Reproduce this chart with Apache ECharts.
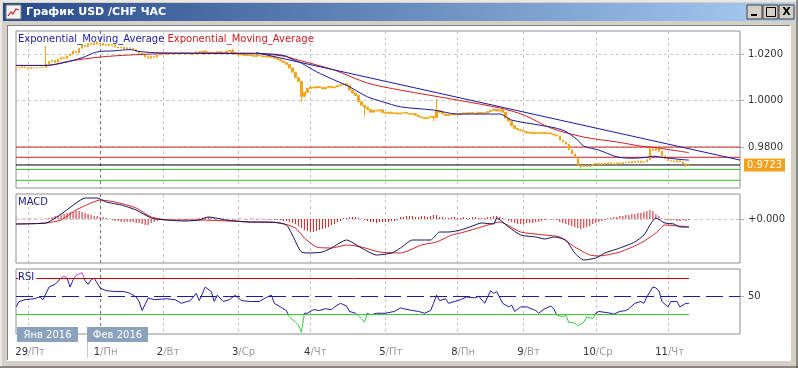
<!DOCTYPE html>
<html><head><meta charset="utf-8">
<script src="https://cdn.jsdelivr.net/npm/echarts@6/dist/echarts.min.js"></script>
<style>html,body{margin:0;padding:0;background:#d4d0c8;}#c{width:798px;height:368px;}</style>
</head><body><div id="c"></div>
<script>
// ---------- data ----------
const windowTitle = 'График USD /CHF ЧАС';
const emaLegend = 'Exponential_Moving_Average';
const slotCount = 242;                       // hourly slots on the time axis
const dayStartIdx = [4, 28, 49, 74, 98, 123, 147, 169, 193, 217];
const dayNum  = ['29', '1', '2', '3', '4', '5', '8', '9', '10', '11'];
const dayName = ['Пт', 'Пн', 'Вт', 'Ср', 'Чт', 'Пт', 'Пн', 'Вт', 'Ср', 'Чт'];
const monthLabels = ['Янв 2016', 'Фев 2016'];
const priceTicks = [0.98, 1.00, 1.02];
const macdTicks = [0];
const rsiTicks = [50];

const closes = [
  1.0143,1.0140,1.0145,1.0141,1.0138,1.0142,1.0140,1.0143,1.0141,1.0142,
  1.0158,
  1.0168,1.0172,1.0165,
  1.0178,1.0185,1.0180,1.0192,
  1.0200,1.0212,1.0206,
  1.0225,1.0238,1.0232,1.0245,1.0240,1.0248,1.0242,
  1.0246,1.0238,1.0242,1.0236,1.0240,
  1.0230,1.0226,1.0229,1.0222,1.0227,1.0224,1.0220,
  1.0212,1.0203,1.0198,
  1.0188,1.0182,1.0190,1.0186,
  1.0196,1.0200,1.0204,1.0198,1.0202,1.0205,1.0200,1.0203,1.0207,1.0201,1.0204,1.0199,
  1.0203,1.0210,1.0206,1.0212,1.0204,1.0208,1.0202,1.0206,1.0210,1.0203,1.0207,1.0212,1.0215,1.0205,
  1.0200,1.0196,1.0199,1.0193,1.0197,1.0194,1.0190,1.0195,1.0192,1.0188,1.0191,1.0186,1.0189,
  1.0182,1.0176,1.0170,1.0163,1.0155,
  1.0140,1.0122,
  1.0098,1.0082,
  1.0018,1.0035,
  1.0052,1.0058,1.0054,1.0060,1.0056,1.0050,1.0057,1.0061,1.0055,1.0059,
  1.0064,1.0068,1.0072,1.0066,
  1.0045,1.0032,1.0022,
  0.9995,0.9980,0.9972,0.9962,
  0.9950,0.9958,0.9955,0.9960,
  0.9948,0.9945,0.9950,0.9944,0.9947,0.9942,0.9946,0.9949,0.9945,0.9941,0.9944,
  0.9936,0.9930,0.9926,0.9922,0.9928,
  0.9932,0.9926,0.9958,
  0.9950,0.9942,0.9935,0.9940,0.9938,0.9943,0.9939,
  0.9944,0.9947,0.9943,0.9948,0.9946,0.9944,0.9949,0.9945,0.9947,
  0.9952,0.9958,0.9962,0.9955,0.9960,0.9950,
  0.9925,0.9912,
  0.9892,0.9880,0.9874,0.9870,
  0.9866,0.9860,0.9864,0.9858,0.9862,0.9859,0.9863,0.9857,0.9861,
  0.9856,0.9852,0.9848,
  0.9830,0.9822,0.9812,
  0.9788,0.9770,0.9755,
  0.9722,0.9716,0.9720,0.9715,0.9719,
  0.9726,0.9730,0.9724,0.9731,0.9727,0.9733,0.9729,0.9726,0.9732,0.9728,0.9734,
  0.9736,0.9732,0.9738,0.9735,0.9740,0.9734,0.9737,0.9745,
  0.9792,0.9785,0.9795,0.9782,
  0.9762,0.9750,0.9742,
  0.9740,0.9736,0.9741,0.9737,
  0.9728,0.9722,0.9723
];
const highSpikes = [[10,1.0234],[27,1.0256],[63,1.0218],[72,1.0222],[140,1.0005],[211,0.9802]];
const lowSpikes  = [[95,0.9995],[116,0.9933],[139,0.9912],[188,0.9708],[223,0.9714]];

const emaBlue = [[0,1.0151],[10,1.0151],[16,1.0163],[22,1.0184],[27,1.0209],[33,1.0214],[38,1.0219],[41,1.0211],
  [46,1.0206],[59,1.0203],[71,1.0202],[85,1.0200],[90,1.0191],[91,1.0183],[95,1.0161],[100,1.0124],[106,1.0088],
  [111,1.0059],[117,1.0016],[122,0.9995],[128,0.9973],[139,0.9959],[147,0.9942],[155,0.9942],[161,0.9942],
  [165,0.9916],[174,0.9895],[182,0.9873],[187,0.9830],[189,0.9804],[194,0.9787],[200,0.9758],[205,0.9752],
  [210,0.9756],[212,0.9761],[215,0.9756],[221,0.9747],[224,0.9744]];
const emaRed = [[0,1.0151],[10,1.0151],[18,1.0170],[28,1.0187],[38,1.0196],[50,1.0202],[61,1.0204],[78,1.0204],
  [89,1.0191],[94,1.0174],[106,1.0131],[117,1.0075],[128,1.0045],[147,1.0002],[161,0.9968],[169,0.9938],
  [178,0.9882],[189,0.9843],[200,0.9822],[208,0.9804],[212,0.9799],[224,0.9776]];
const trendLine = [[80,1.0206],[241,0.9744]];
const redLevels = [0.9800, 0.9756];
const greenLevels = [0.9704, 0.9657];
const lastPrice = 0.9723;

// MACD in pips (0.0001)
const macdHist = [
  0.5,0.5,0.6,0.5,0.4,0.5,0.6,0.5,0.5,0.6,0.8,
  1,2,3,3,
  4,5,6,7,7,
  8,8,7,6,5,
  4,3,3,2,2,
  1,0.5,-1,
  -2,-2,-3,-3,-3,-3,-3,-4,-4,-5,-6,-6,
  -4,-3,-2,-1,-1,-0.5,
  0.5,0.5,-0.5,0.5,0.5,-0.5,0.5,0.5,0.5,0.5,
  1,1.5,2,2,1.5,1,
  0.5,0.5,0.5,-0.5,0.5,0.5,-0.5,0.5,0.5,0.5,-0.5,0.5,0.5,-0.5,0.5,0.5,-0.5,-0.5,-0.5,-1,
  -1,-1,-2,-2,-3,-4,-5,
  -7,-9,-11,-12,-13,-13,-12,-11,-10,-9,
  -8,-6,-5,-3,-2,
  1,1,2,2,2,1,0.5,
  -1,-2,-3,-3,-4,-3,-3,-3,-3,-2,-2,-1,
  2,2,3,3,3,2,2,3,3,2,3,4,4,
  2,2,1,1,2,2,1,1,2,1,1,2,2,1,1,
  1,2,2,3,3,2,1,0.5,
  -2,-3,-4,-5,-5,-5,-4,-4,-4,-3,-3,-2,
  -1,-0.5,-0.5,-0.5,-1,
  -3,-4,-5,-6,-7,-8,-9,-10,-9,-8,-7,
  -5,-4,-3,-2,-1,
  1,1,2,2,3,3,4,4,5,5,6,6,7,8,9,8,
  5,3,1,-0.5,
  -1,-1,-1,-2,-2,-1,-2,-1
];
const macdLine = [[0,-5],[10,-4],[13,1],[16,7],[20,16],[23,21],[27,21],[30,17],[35,14],[40,9],[45,1],[50,-1],
  [56,-2],[61,-1],[64,2],[70,-1],[78,-3],[85,-3],[90,-6],[92,-16],[95,-33],[98,-34],[102,-33],[105,-29],
  [110,-21],[115,-29],[120,-36],[125,-34],[128,-29],[132,-21],[138,-21],[141,-13],[144,-13],[148,-11],
  [151,-8],[155,-4],[159,-5],[160,1],[164,-8],[168,-16],[173,-18],[176,-20],[179,-18],[183,-21],[186,-34],
  [189,-41],[193,-39],[196,-34],[201,-29],[206,-23],[209,-16],[213,1],[216,-4],[219,-5],[221,-8],[224,-8]];
const macdSignal = [[0,-5],[10,-4],[15,-1],[20,9],[25,16],[28,19],[33,17],[40,11],[45,2],[51,-1],[61,-1],
  [78,-3],[88,-4],[93,-9],[96,-19],[100,-28],[105,-29],[110,-26],[115,-28],[121,-33],[128,-34],[135,-26],
  [140,-23],[145,-16],[148,-14],[156,-7],[161,-3],[168,-13],[176,-16],[181,-18],[186,-28],[191,-36],
  [194,-37],[201,-33],[208,-24],[213,-14],[216,-6],[221,-7],[224,-8]];

const rsi = [[0,38],[1,44],[3,46],[6,47],[8,49],[9,46],[10,53],[11,60],[13,63],[15,70],[16,72],[17,70],[18,60],
  [19,68],[20,73],[22,76],[23,67],[24,63],[25,68],[26,70],[28,59],[30,56],[33,55],[36,55],[38,53],[40,49],
  [41,44],[42,34],[44,48],[46,46],[50,47],[53,46],[55,42],[58,45],[60,53],[61,45],[63,60],[65,55],[66,44],
  [67,51],[69,44],[71,46],[73,51],[75,45],[78,44],[81,44],[83,48],[85,51],[86,42],[88,38],[90,34],[91,27],
  [93,21],[94,18],[95,10],[96,31],[97,31],[99,35],[101,34],[103,36],[105,35],[106,38],[108,42],[110,39],
  [111,33],[113,31],[115,25],[116,21],[117,31],[118,29],[120,31],[123,31],[126,33],[128,37],[129,36],
  [132,34],[134,33],[136,31],[138,34],[139,42],[140,51],[141,45],[143,47],[144,42],[146,44],[148,46],
  [150,49],[153,48],[154,50],[156,42],[158,56],[159,53],[160,55],[162,42],[164,38],[165,40],[166,33],
  [168,38],[170,38],[173,34],[174,31],[176,36],[178,39],[179,36],[180,29],[182,27],[183,29],[184,21],
  [186,20],[187,17],[189,21],[190,27],[192,25],[193,31],[194,33],[198,31],[199,30],[201,33],[203,34],
  [204,36],[206,42],[208,44],[209,42],[210,49],[212,60],[213,59],[214,56],[215,44],[217,38],[218,44],
  [220,44],[221,38],[223,42],[224,42]];
const rsiUpper = 70, rsiMid = 50, rsiLower = 30;

// ---------- build ----------
const FONT = 'DejaVu Sans';
const cats = Array.from({length: slotCount}, (_, i) => String(i));
const lastIdx = closes.length - 1;
const lastSlot = slotCount - 1;
const candles = closes.map((c, i) => {
  const o = i ? closes[i - 1] : c;
  return [o, c, Math.min(o, c), Math.max(o, c)];
});
highSpikes.forEach(([i, v]) => { candles[i][3] = Math.max(candles[i][3], v); });
lowSpikes.forEach(([i, v]) => { candles[i][2] = Math.min(candles[i][2], v); });

const isDay = (i) => dayStartIdx.indexOf(i) >= 0;
const vGridColors = dayStartIdx.map((_, k) => k === 1 ? '#707070' : '#c6c6c6');

function xAxisFor(gi, extra) {
  return Object.assign({
    type: 'category', gridIndex: gi, data: cats, boundaryGap: false, position: 'bottom',
    axisLine: {show: false}, axisTick: {show: false}, axisLabel: {show: false},
    splitLine: {show: true, interval: (i) => isDay(i), lineStyle: {color: vGridColors, type: [3, 3], width: 1}}
  }, extra || {});
}
const gridBase = {left: 16, width: 724, show: true, borderColor: '#8e8e8e', borderWidth: 1, backgroundColor: '#fff', containLabel: false, outerBoundsMode: 'none'};
const yLabel = {color: '#333', fontFamily: FONT, fontSize: 10, margin: 8};
const levelSeries = (v, color, extra) => Object.assign({
  type: 'line', xAxisIndex: 0, yAxisIndex: 0, z: 1, symbol: 'none', silent: true,
  data: [[0, v], [lastSlot, v]], lineStyle: {color: color, width: 1, type: 'solid'}
}, extra || {});

const option = {
  backgroundColor: '#ffffff',
  animation: false,
  textStyle: {fontFamily: FONT},
  grid: [
    Object.assign({top: 31, height: 157}, gridBase),
    Object.assign({top: 194, height: 69}, gridBase),
    Object.assign({top: 269, height: 65}, gridBase)
  ],
  title: [
    {left: 18, top: 34, padding: 0, text: '{b|' + emaLegend + '} {r|' + emaLegend + '}',
      textStyle: {fontSize: 10, fontWeight: 'normal', rich: {b: {color: '#1a1aa6', fontSize: 10, fontFamily: FONT}, r: {color: '#d02020', fontSize: 10, fontFamily: FONT}}}},
    {left: 18, top: 197, padding: [0, 2, 0, 0], text: 'MACD', backgroundColor: '#fff', textStyle: {fontSize: 10, fontWeight: 'normal', color: '#1a1a80', fontFamily: FONT}},
    {left: 18, top: 272, padding: [0, 2, 0, 0], text: 'RSI', backgroundColor: '#fff', textStyle: {fontSize: 10, fontWeight: 'normal', color: '#1a1a80', fontFamily: FONT}}
  ],
  xAxis: [
    xAxisFor(0), xAxisFor(1),
    xAxisFor(2, {axisLabel: {show: true, interval: (i) => isDay(i), align: 'right', margin: 13,
      formatter: (v) => { const k = dayStartIdx.indexOf(+v); return k >= 0 ? dayNum[k] : ''; },
      color: '#333', fontFamily: FONT, fontSize: 10}}),
    xAxisFor(2, {offset: 0, splitLine: {show: false}, axisLabel: {show: true, interval: (i) => isDay(i), align: 'left', margin: 13,
      formatter: (v) => { const k = dayStartIdx.indexOf(+v); return k >= 0 ? '/' + dayName[k] : ''; },
      color: '#9a9a9a', fontFamily: FONT, fontSize: 10}})
  ],
  yAxis: [
    {type: 'value', gridIndex: 0, position: 'right', min: 0.9624, max: 1.0299,
      axisLine: {show: false},
      axisTick: {show: true, length: 4, lineStyle: {color: '#aaa'}, customValues: priceTicks},
      axisLabel: Object.assign({customValues: priceTicks, formatter: (v) => v.toFixed(4)}, yLabel),
      splitLine: {show: true, lineStyle: {color: '#c8c8c8', type: [3, 3]}}},
    {type: 'value', gridIndex: 1, position: 'right', min: -44, max: 25,
      axisLine: {show: false},
      axisTick: {show: true, length: 4, lineStyle: {color: '#aaa'}, customValues: macdTicks},
      axisLabel: Object.assign({customValues: macdTicks, formatter: (v) => (v >= 0 ? '+' : '') + (v / 10000).toFixed(3)}, yLabel),
      splitLine: {show: true, lineStyle: {color: '#c8c8c8', type: [3, 3]}}},
    {type: 'value', gridIndex: 2, position: 'right', min: 8, max: 80,
      axisLine: {show: false},
      axisTick: {show: true, length: 4, lineStyle: {color: '#aaa'}, customValues: rsiTicks},
      axisLabel: Object.assign({customValues: rsiTicks}, yLabel),
      splitLine: {show: false}}
  ],
  visualMap: [{type: 'piecewise', show: false, seriesIndex: 7, dimension: 1,
    pieces: [{lt: rsiLower, color: '#33cc33'}, {gte: rsiLower, lte: rsiUpper, color: '#1c1ca0'}, {gt: rsiUpper, color: '#cc44cc'}]}],
  series: [
    {type: 'candlestick', xAxisIndex: 0, yAxisIndex: 0, data: candles, barWidth: 2, z: 2,
      itemStyle: {color: '#f2a516', color0: '#f2a516', borderColor: '#f2a516', borderColor0: '#f2a516', borderWidth: 1}},
    {type: 'line', xAxisIndex: 0, yAxisIndex: 0, data: emaRed, symbol: 'none', smooth: 0.3, z: 3, lineStyle: {color: '#d02020', width: 1}},
    {type: 'line', xAxisIndex: 0, yAxisIndex: 0, data: emaBlue, symbol: 'none', smooth: 0.3, z: 3, lineStyle: {color: '#1a1a9a', width: 1}},
    {type: 'line', xAxisIndex: 0, yAxisIndex: 0, data: trendLine, symbol: 'none', z: 3, lineStyle: {color: '#1a1a9a', width: 1}},
    {type: 'bar', xAxisIndex: 1, yAxisIndex: 1, data: macdHist, barWidth: 1, itemStyle: {color: '#d02020'}},
    {type: 'line', xAxisIndex: 1, yAxisIndex: 1, data: macdSignal, symbol: 'none', smooth: 0.2, lineStyle: {color: '#d02020', width: 1}},
    {type: 'line', xAxisIndex: 1, yAxisIndex: 1, data: macdLine, symbol: 'none', smooth: 0.2, lineStyle: {color: '#101060', width: 1}},
    {type: 'line', xAxisIndex: 2, yAxisIndex: 2, data: rsi, symbol: 'none', lineStyle: {width: 1},
      markLine: {silent: true, precision: 2, symbol: ['none', 'none'], label: {show: false},
        data: [
          [{coord: [0, rsiUpper], lineStyle: {color: '#cc0000', type: 'solid', width: 1}}, {coord: [lastIdx, rsiUpper]}],
          [{coord: [0, rsiLower], lineStyle: {color: '#33cc33', type: 'solid', width: 1}}, {coord: [lastIdx, rsiLower]}],
          {yAxis: rsiMid, lineStyle: {color: '#1c1ca0', type: [17, 6], width: 1}}
        ]}},
    levelSeries(redLevels[0], '#cc2020'),
    levelSeries(redLevels[1], '#cc2020'),
    levelSeries(greenLevels[0], '#33bb33'),
    levelSeries(greenLevels[1], '#33bb33'),
    levelSeries(lastPrice, '#000000', {
      endLabel: {show: true, distance: 4, formatter: () => lastPrice.toFixed(4), color: '#fff',
        backgroundColor: '#f2a21c', padding: [2, 3, 1, 3], fontFamily: FONT, fontSize: 10}})
  ],
  graphic: [
    // window frame
    {type: 'rect', z: 100, shape: {x: 0, y: 0, width: 798, height: 25}, style: {fill: '#d4d0c8'}},
    {type: 'rect', z: 100, shape: {x: 0, y: 0, width: 8, height: 368}, style: {fill: '#d4d0c8'}},
    {type: 'rect', z: 100, shape: {x: 790, y: 0, width: 8, height: 368}, style: {fill: '#d4d0c8'}},
    {type: 'rect', z: 100, shape: {x: 0, y: 360, width: 798, height: 8}, style: {fill: '#d4d0c8'}},
    {type: 'line', z: 101, shape: {x1: 1, y1: 1, x2: 797, y2: 1}, style: {stroke: '#ffffff'}},
    {type: 'line', z: 101, shape: {x1: 1, y1: 1, x2: 1, y2: 367}, style: {stroke: '#ffffff'}},
    {type: 'line', z: 101, shape: {x1: 797, y1: 0, x2: 797, y2: 368}, style: {stroke: '#404040'}},
    {type: 'line', z: 101, shape: {x1: 0, y1: 367, x2: 798, y2: 367}, style: {stroke: '#404040'}},
    {type: 'line', z: 101, shape: {x1: 7.5, y1: 25, x2: 7.5, y2: 360}, style: {stroke: '#808080'}},
    {type: 'line', z: 101, shape: {x1: 7, y1: 25.5, x2: 790, y2: 25.5}, style: {stroke: '#808080'}},
    {type: 'line', z: 101, shape: {x1: 790.5, y1: 25, x2: 790.5, y2: 360}, style: {stroke: '#ffffff'}},
    {type: 'line', z: 101, shape: {x1: 7, y1: 360.5, x2: 791, y2: 360.5}, style: {stroke: '#ffffff'}},
    // title bar
    {type: 'rect', z: 102, shape: {x: 3, y: 3, width: 792, height: 18},
      style: {fill: {type: 'linear', x: 0, y: 0, x2: 1, y2: 0, colorStops: [{offset: 0, color: '#284a8a'}, {offset: 1, color: '#a8ccf2'}]}}},
    {type: 'rect', z: 103, shape: {x: 6, y: 5, width: 15, height: 14}, style: {fill: '#f4f4f4', stroke: '#7a7a7a', lineWidth: 1}},
    {type: 'polyline', z: 104, shape: {points: [[8, 16], [11, 12], [13, 14], [16, 9], [19, 10]]}, style: {stroke: '#d02020', lineWidth: 1.2, fill: 'none'}},
    {type: 'text', z: 104, x: 26, y: 12, style: {text: windowTitle, fill: '#fff', font: 'bold 11px "DejaVu Sans"', align: 'left', verticalAlign: 'middle'}},
    // buttons
    {type: 'rect', z: 103, shape: {x: 747, y: 5, width: 15, height: 14}, style: {fill: '#d4d0c8', stroke: '#404040', lineWidth: 1}},
    {type: 'rect', z: 104, shape: {x: 751, y: 14, width: 6, height: 2}, style: {fill: '#000'}},
    {type: 'rect', z: 103, shape: {x: 763, y: 5, width: 15, height: 14}, style: {fill: '#d4d0c8', stroke: '#404040', lineWidth: 1}},
    {type: 'rect', z: 104, shape: {x: 766.5, y: 7.5, width: 9, height: 9}, style: {fill: 'none', stroke: '#000', lineWidth: 1}},
    {type: 'rect', z: 103, shape: {x: 779, y: 5, width: 15, height: 14}, style: {fill: '#d4d0c8', stroke: '#404040', lineWidth: 1}},
    {type: 'text', z: 104, x: 786.5, y: 12.5, style: {text: 'X', fill: '#000', font: 'bold 11px "DejaVu Sans"', align: 'center', verticalAlign: 'middle'}},
    // month boxes
    {type: 'rect', z: 110, shape: {x: 17, y: 327, width: 61, height: 15}, style: {fill: '#8aa2bc'}},
    {type: 'text', z: 111, x: 47.5, y: 335, style: {text: monthLabels[0], fill: '#fff', font: '10px "DejaVu Sans"', align: 'center', verticalAlign: 'middle'}},
    {type: 'rect', z: 110, shape: {x: 87, y: 327, width: 61, height: 15}, style: {fill: '#8aa2bc'}},
    {type: 'text', z: 111, x: 117.5, y: 335, style: {text: monthLabels[1], fill: '#fff', font: '10px "DejaVu Sans"', align: 'center', verticalAlign: 'middle'}},
    {type: 'line', z: 110, shape: {x1: 87.5, y1: 342, x2: 87.5, y2: 358}, style: {stroke: '#c8c8c8'}}
  ]
};
const chart = echarts.init(document.getElementById('c'), null, {renderer: 'canvas'});
chart.setOption(option);
</script></body></html>
